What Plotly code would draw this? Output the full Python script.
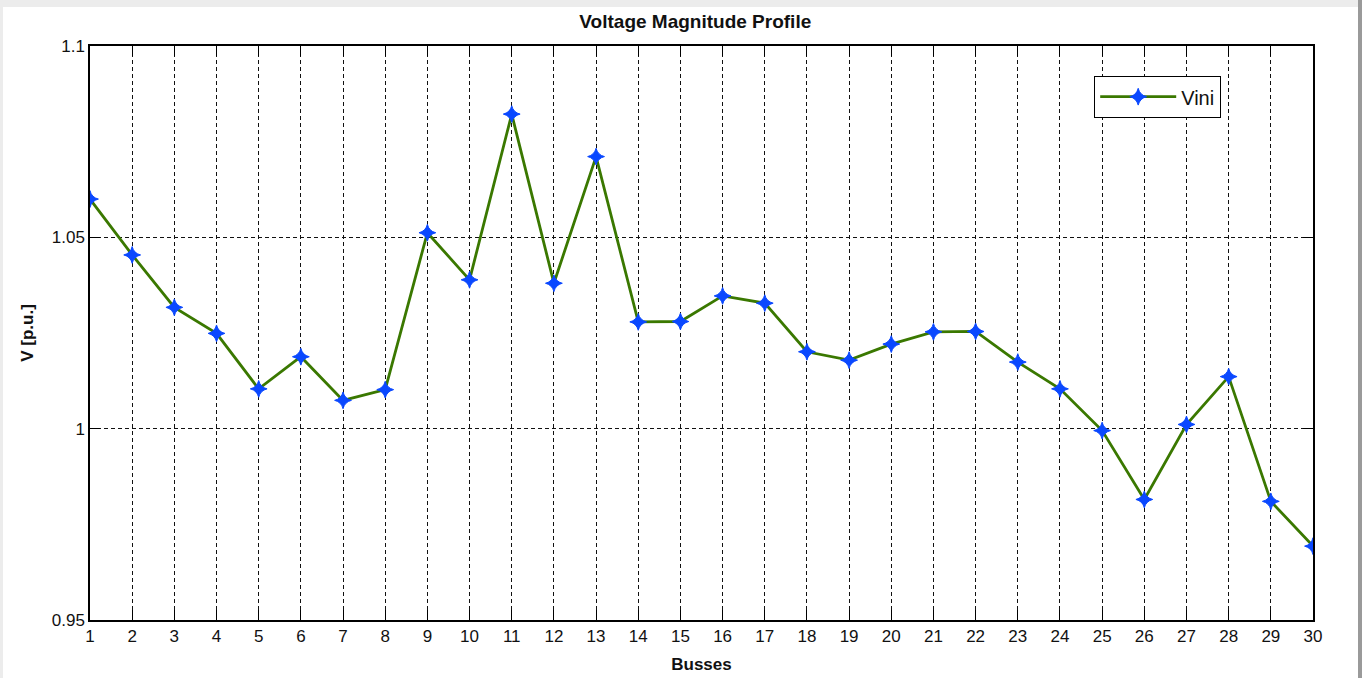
import plotly.graph_objects as go

buses = list(range(1, 31))
v_ini = [1.060, 1.0454, 1.0317, 1.0249, 1.0104, 1.0188, 1.0074, 1.0102, 1.0512, 1.0389,
         1.0822, 1.0380, 1.0711, 1.0279, 1.0280, 1.0347, 1.0328, 1.0201, 1.0179, 1.0221,
         1.0253, 1.0254, 1.0174, 1.0104, 0.9995, 0.9815, 1.0011, 1.0136, 0.9810, 0.9693]

x_ticks = list(range(1, 31))
y_ticks = [0.95, 1.0, 1.05, 1.1]
y_tick_text = ["0.95", "1", "1.05", "1.1"]

W, H = 1362, 678
L, R, T, B = 90, 1313, 46, 620

def px(xp):
    return (xp - L) / (R - L)

def py(yp):
    return (B - yp) / (B - T)

FONT = "Liberation Sans Narrow, Arial Narrow, Liberation Sans, Arial, sans-serif"

fig = go.Figure()
fig.add_trace(go.Scatter(
    x=buses, y=v_ini, mode="lines+markers", name="Vini",
    line=dict(color="#3a7800", width=2.8),
    marker=dict(symbol="star-diamond", size=12, color="#0a48ff",
                line=dict(color="#0a48ff", width=1)),
))

axis_common = dict(
    showline=True, linecolor="black", linewidth=1.5, mirror="ticks",
    ticks="inside", ticklen=10, tickwidth=1.2, tickcolor="black",
    showgrid=True, gridcolor="#111111", gridwidth=1.3, griddash="4px,3px",
    zeroline=False, tickfont=dict(family=FONT, size=17, color="#111111"),
    automargin=False,
)

fig.update_xaxes(range=[1, 30], tickmode="array", tickvals=x_ticks,
                 title=dict(text="<b>Busses</b>", font=dict(family=FONT, size=17, color="#111111"), standoff=13),
                 **axis_common)
fig.update_yaxes(range=[0.95, 1.1], tickmode="array", tickvals=y_ticks, ticktext=y_tick_text,
                 title=dict(text="<b>V [p.u.]</b>", font=dict(family=FONT, size=17, color="#111111"), standoff=14),
                 **axis_common)

shapes = [
    dict(type="rect", xref="paper", yref="paper", x0=px(0), x1=px(W), y0=py(0), y1=py(7),
         fillcolor="#ececec", line=dict(width=0), layer="below"),
    dict(type="rect", xref="paper", yref="paper", x0=px(0), x1=px(3), y0=py(0), y1=py(H),
         fillcolor="#ececec", line=dict(width=0), layer="below"),
    dict(type="rect", xref="paper", yref="paper", x0=px(1358), x1=px(W), y0=py(0), y1=py(H),
         fillcolor="#9a9a9a", line=dict(width=0), layer="below"),
]

fig.update_layout(
    width=W, height=H,
    margin=dict(l=L, r=W - R, t=T, b=H - B, autoexpand=False),
    paper_bgcolor="white", plot_bgcolor="white",
    title=dict(text="<b>Voltage Magnitude Profile</b>", x=0.5105, xanchor="center",
               y=1 - 21 / H, yanchor="middle",
               font=dict(family=FONT, size=19, color="#111111")),
    showlegend=True,
    legend=dict(x=px(1094), y=py(76), xanchor="left", yanchor="top",
                bgcolor="white", bordercolor="black", borderwidth=1.2,
                font=dict(family=FONT, size=20, color="#111111"),
                itemwidth=76, tracegroupgap=0),
    shapes=shapes,
)

fig.write_html("out.html")
